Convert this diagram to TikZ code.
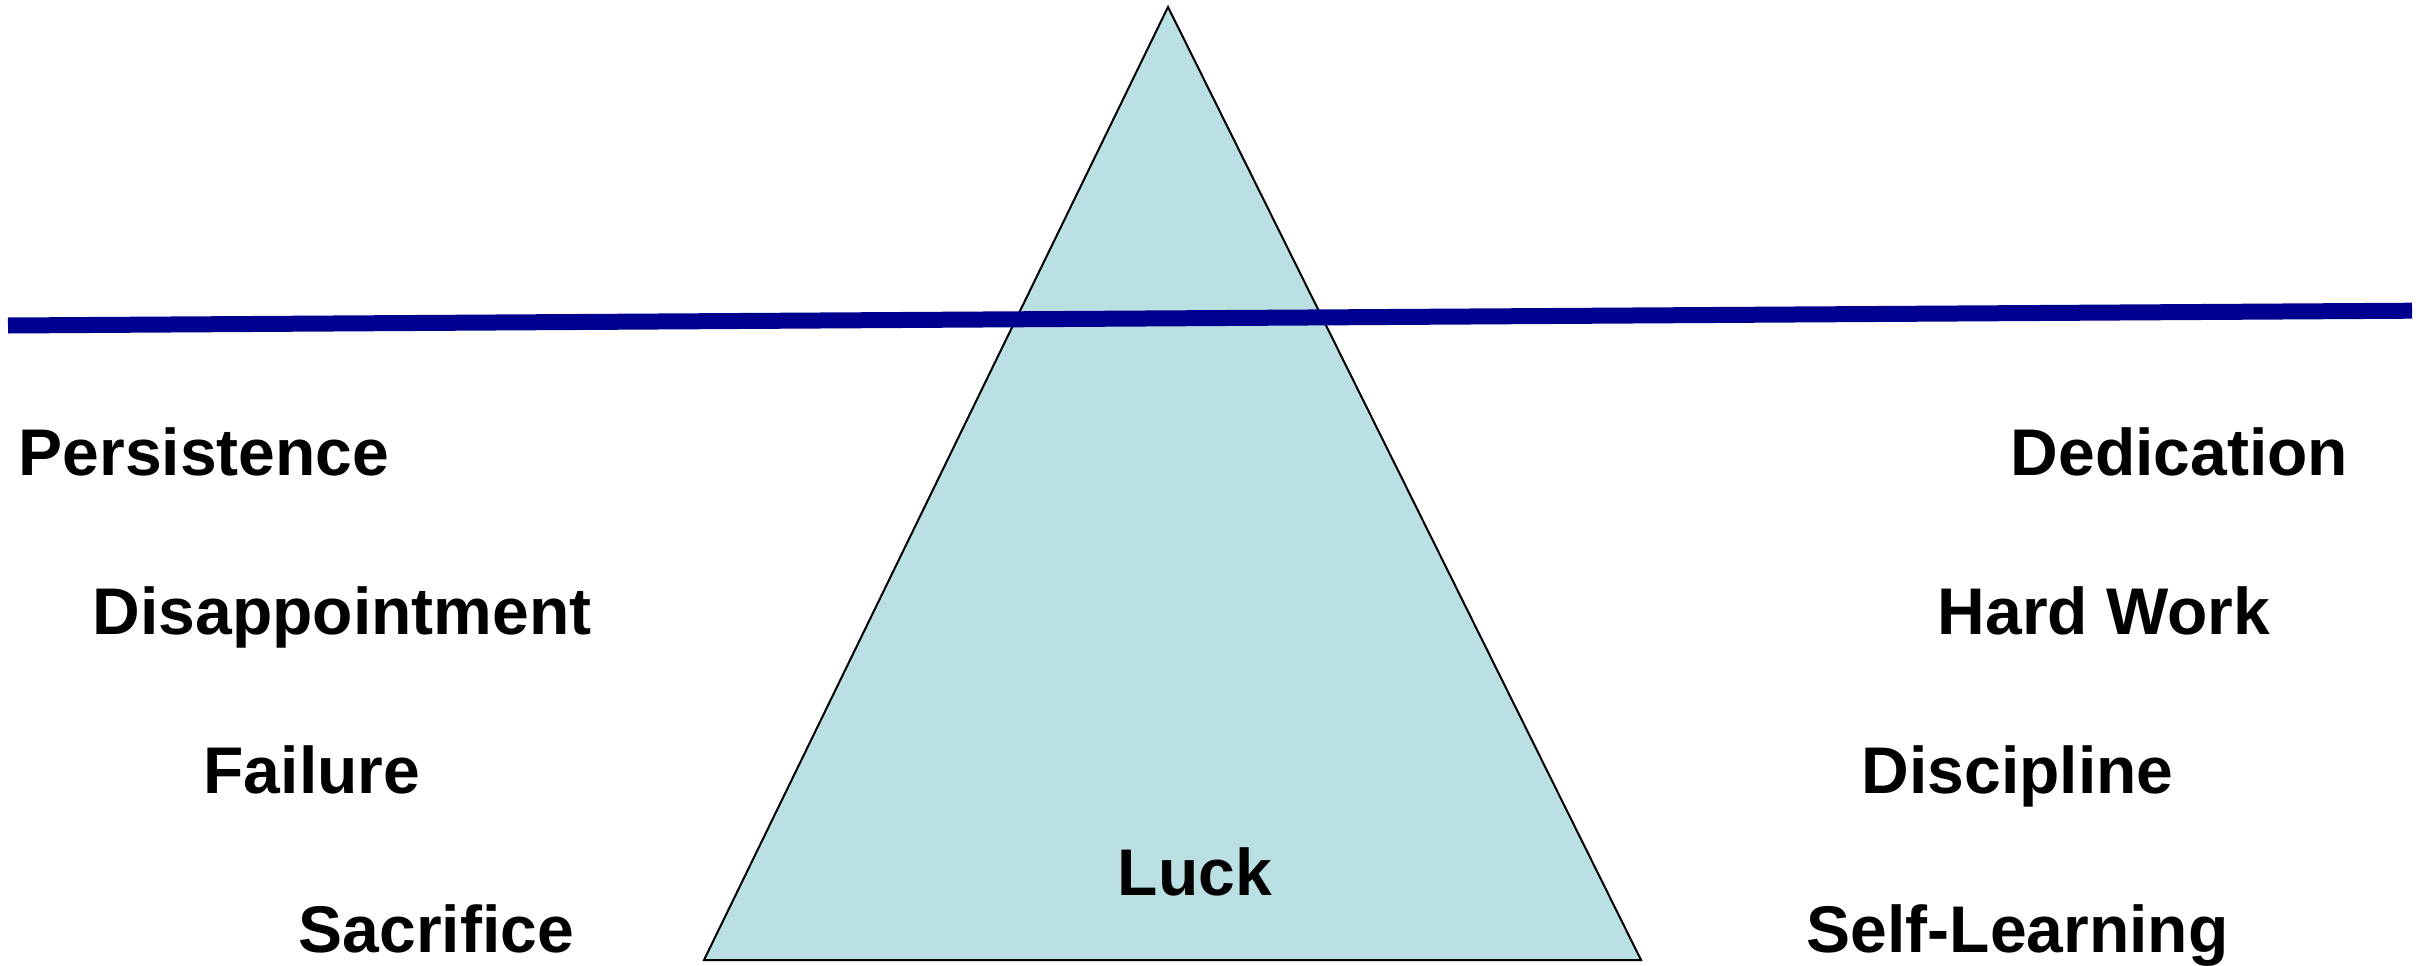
\documentclass[tikz,border=0pt]{standalone}
\usepackage{fontspec}
\setmainfont{Liberation Sans}
\definecolor{trifill}{RGB}{187,224,227}
\definecolor{navyline}{RGB}{0,0,144}
\begin{document}
\begin{tikzpicture}[x=0.3pt,y=-0.3pt,
  lbl/.style={anchor=base west,inner sep=0pt,font=\fontsize{19.8}{24}\selectfont\bfseries}]
\useasboundingbox (0,0) rectangle (2427,966);
\coordinate (apex) at (1168,7);
\coordinate (bl) at (704,960);
\coordinate (br) at (1641,960);
\draw[fill=trifill,draw=black,line width=0.6pt,line join=miter] (apex) -- (bl) -- (br) -- cycle;
\coordinate (la) at (8,325.5);
\coordinate (lb) at (2412,310.7);
\draw[navyline,line width=4.8pt] (la) -- (lb);
\node[lbl] (persistence) at (18,475) {Persistence};
\node[lbl] (disappointment) at (92,634) {Disappointment};
\node[lbl] (failure) at (203,793) {Failure};
\node[lbl] (sacrifice) at (298,952) {Sacrifice};
\node[lbl] (luck) at (1117,895) {Luck};
\node[lbl] (dedication) at (2010,475) {Dedication};
\node[lbl] (hardwork) at (1937,634) {Hard Work};
\node[lbl] (discipline) at (1861,793) {Discipline};
\node[lbl] (selflearning) at (1806,952) {Self-Learning};
\end{tikzpicture}
\end{document}
